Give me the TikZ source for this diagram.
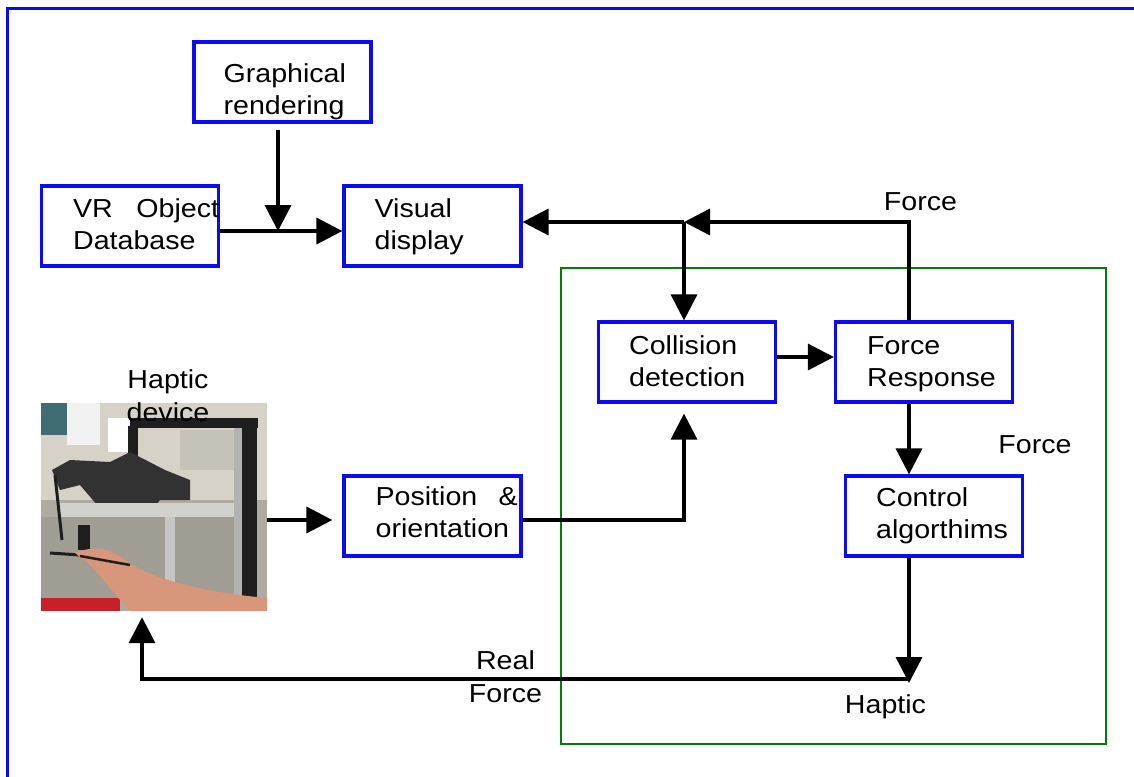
\documentclass[tikz,border=0pt]{standalone}
\usepackage{fontspec}
\setmainfont{Liberation Sans}[FakeStretch=1.1]
\usetikzlibrary{arrows.meta,calc}
\definecolor{bbox}{RGB}{10,10,245}
\definecolor{gbox}{RGB}{0,128,0}
\definecolor{phbg}{RGB}{176,171,160}
\definecolor{phwall}{RGB}{214,210,200}
\definecolor{phteal}{RGB}{63,107,115}
\definecolor{phdark}{RGB}{30,30,30}
\definecolor{phmech}{RGB}{50,50,50}
\definecolor{phtable}{RGB}{210,210,204}
\definecolor{phlow}{RGB}{160,157,148}
\definecolor{phskin}{RGB}{216,150,122}
\definecolor{phred}{RGB}{200,32,42}
\tikzset{
  box/.style={draw=bbox, line width=3.2pt, minimum width=177pt, minimum height=80pt, inner sep=0pt},
  lbl/.style={font=\fontsize{26}{32}\selectfont, align=left, inner sep=0pt, anchor=base west},
  clbl/.style={font=\fontsize{26}{33}\selectfont, align=center, inner sep=0pt, anchor=base},
  arr/.style={line width=3.5pt, -{Triangle[length=26pt,width=26pt]}},
}
\begin{document}
\begin{tikzpicture}[x=1pt,y=-1pt]
\useasboundingbox (0,0) rectangle (1134,776);
\fill[white] (0,0) rectangle (1134,776);
% outer frame
\draw[bbox, line width=2.5pt] (7.5,780) -- (7.5,8.5) -- (1140,8.5);
% green frame
\node[draw=gbox, line width=2.8pt, minimum width=545pt, minimum height=476pt, inner sep=0pt] (grn) at (833.5,506) {};

% boxes
\node[box] (gr)  at (282.5,82) {};
\node[box] (vr)  at (130,226) {};
\node[box] (vis) at (432.5,226) {};
\node[box] (col) at (687,362) {};
\node[box] (fr)  at (924,362) {};
\node[box] (ctl) at (934,516) {};
\node[box] (pos) at (432.5,516) {};

% photo of the haptic device
\node[inner sep=0pt, minimum width=226pt, minimum height=208pt] (photo) at (154,507) {};
\begin{scope}
\clip (41,403) rectangle (267,611);
\fill[phbg] (41,403) rectangle (267,611);
\fill[phwall] (41,403) rectangle (267,500);
\fill[phteal] (41,403) rectangle (67,435);
\fill[white!90!gray] (67,403) rectangle (100,445);
\fill[phwall!80!gray] (180,430) rectangle (234,470);
\fill[phdark] (130,418) rectangle (258,428);
\fill[gray!60] (234,428) rectangle (242,600);
\fill[phdark] (242,418) rectangle (257,600);
\fill[white] (108,418) rectangle (130,452);
\fill[phdark] (128,426) rectangle (138,456);
\fill[phmech] (52,470) -- (70,460) -- (110,462) -- (130,452) -- (165,470) -- (190,480) -- (190,500) -- (160,500) -- (140,525) -- (110,520) -- (80,485) -- (60,490) -- cycle;
\fill[phtable] (60,503) rectangle (234,517);
\fill[phlow] (41,517) rectangle (234,600);
\fill[gray!45] (165,517) rectangle (175,595);
\draw[phdark, line width=3pt] (55,475) -- (62,540);
\fill[phdark] (78,525) rectangle (90,550);
\draw[phdark, line width=3pt] (50,553) -- (80,555);
\fill[phred] (41,598) rectangle (120,611);
\fill[phskin] (75,553) .. controls (95,545) and (110,548) .. (125,560) .. controls (150,578) and (200,592) .. (267,598) -- (267,611) -- (130,611) .. controls (115,595) and (100,575) .. (90,565) -- cycle;
\draw[phdark, line width=2.5pt] (80,556) -- (130,565);
\end{scope}

% texts (anchor at the baseline of the last line)
\node[lbl] (t-gr)  at ($(gr.north west)+(31,74)$) {Graphical\\rendering};
\node[lbl] (t-vr)  at ($(vr.north west)+(33,65)$) {\makebox[146pt][l]{VR\hfill Object}\\Database};
\node[lbl] (t-vis) at ($(vis.north west)+(32,65)$) {Visual\\display};
\node[lbl] (t-col) at ($(col.north west)+(32,66)$) {Collision\\detection};
\node[lbl] (t-fr)  at ($(fr.north west)+(33,66)$) {Force\\Response};
\node[lbl] (t-ctl) at ($(ctl.north west)+(32,64)$) {Control\\algorthims};
\node[lbl] (t-pos) at ($(pos.north west)+(33,63)$) {\makebox[142pt][l]{Position\hfill\&}\\orientation};
\node[clbl] (t-hd) at (168,421) {Haptic\\device};
\node[clbl] (t-f1) at (920.5,210) {Force};
\node[clbl] (t-f2) at (1035,453) {Force};
\node[clbl] (t-rf) at (505.5,702) {Real\\Force};
\node[clbl] (t-hp) at (885.5,713) {Haptic};

% junction coordinates
\coordinate (gj) at (278,231);
\coordinate (tj) at (684,222);
\coordinate (tr) at (909,222);
\coordinate (cf) at (805,357);
\coordinate (hp) at (909,683);
\coordinate (rl) at (142,679);
\coordinate (pp) at (300,520);
\coordinate (pc) at (684,520);

% connectors
\draw[arr, shorten <=6pt] (gr.south -| gj) -- (gj);
\draw[arr] (vr.east |- gj) -- (vis.west |- gj);
\draw[arr] (fr.north -| tr) -- (tr) -- (tj);
\draw[arr] (tj) -- (vis.east |- tj);
\draw[arr] (tj) -- (col.north -| tj);
\draw[arr] (col.east |- cf) -- (fr.west |- cf);
\draw[arr] (fr.south -| tr) -- (ctl.north -| tr);
\draw[arr] (ctl.south -| hp) -- (hp);
\draw[arr, shorten >=6pt] (hp |- rl) -- (rl) -- (photo.south -| rl);
\draw[arr, shorten >=10pt] (photo.east |- pp) -- (pos.west |- pp);
\draw[arr, shorten >=10pt] (pos.east |- pc) -- (pc) -- (col.south -| pc);
\end{tikzpicture}
\end{document}
